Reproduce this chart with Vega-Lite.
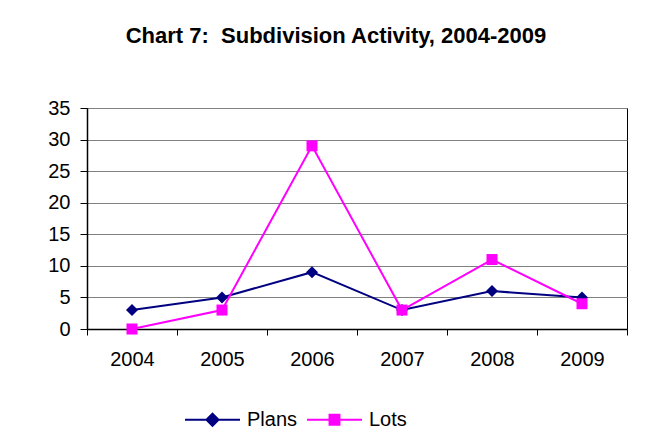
{
  "$schema": "https://vega.github.io/schema/vega-lite/v6.json",
  "width": 540,
  "height": 221,
  "autosize": "none",
  "padding": {"left": 87, "top": 108, "right": 30, "bottom": 118},
  "background": "white",
  "config": {
    "font": "Liberation Sans",
    "view": {"stroke": "#000000", "strokeWidth": 1}
  },
  "title": {
    "text": "Chart 7:\u00a0 Subdivision Activity, 2004-2009",
    "font": "Liberation Sans",
    "fontSize": 22,
    "fontWeight": "bold",
    "color": "#000000",
    "anchor": "middle",
    "frame": "group",
    "offset": 50,
    "dx": -21
  },
  "data": {
    "values": [
      {"year": "2004", "series": "Plans", "value": 3},
      {"year": "2005", "series": "Plans", "value": 5},
      {"year": "2006", "series": "Plans", "value": 9},
      {"year": "2007", "series": "Plans", "value": 3},
      {"year": "2008", "series": "Plans", "value": 6},
      {"year": "2009", "series": "Plans", "value": 5},
      {"year": "2004", "series": "Lots", "value": 0},
      {"year": "2005", "series": "Lots", "value": 3},
      {"year": "2006", "series": "Lots", "value": 29},
      {"year": "2007", "series": "Lots", "value": 3},
      {"year": "2008", "series": "Lots", "value": 11},
      {"year": "2009", "series": "Lots", "value": 4}
    ]
  },
  "encoding": {
    "x": {
      "field": "year",
      "type": "ordinal",
      "scale": {"type": "band", "paddingInner": 0, "paddingOuter": 0},
      "axis": {
        "title": null,
        "labelAngle": 0,
        "labelFont": "Liberation Sans",
        "labelFontSize": 20,
        "labelColor": "#000000",
        "labelPadding": 14,
        "tickBand": "extent",
        "tickSize": 6,
        "tickColor": "#000000",
        "domainColor": "#000000",
        "domainWidth": 1.5,
        "grid": false
      }
    },
    "y": {
      "field": "value",
      "type": "quantitative",
      "scale": {"domain": [0, 35], "nice": false},
      "axis": {
        "title": null,
        "values": [0, 5, 10, 15, 20, 25, 30, 35],
        "labelFont": "Liberation Sans",
        "labelFontSize": 20,
        "labelColor": "#000000",
        "labelPadding": 10,
        "tickSize": 7,
        "tickColor": "#000000",
        "domainColor": "#000000",
        "domainWidth": 1.5,
        "grid": true,
        "gridColor": "#808080",
        "gridWidth": 1.2
      }
    },
    "color": {
      "field": "series",
      "type": "nominal",
      "scale": {"domain": ["Plans", "Lots"], "range": ["#000080", "#FF00FF"]},
      "legend": {
        "title": null,
        "orient": "none",
        "direction": "horizontal",
        "legendX": 97,
        "legendY": 283,
        "symbolSize": 3025,
        "symbolStrokeWidth": 2,
        "labelFont": "Liberation Sans",
        "labelFontSize": 20,
        "labelColor": "#000000",
        "labelOffset": 6,
        "columnPadding": 5,
        "encode": {
          "symbols": {
            "update": {
              "shape": {"signal": "datum.value === 'Plans' ? 'M-1,0H1M0,-0.22L0.22,0L0,0.22L-0.22,0Z' : 'M-1,0H1M-0.18,-0.18H0.18V0.18H-0.18Z'"},
              "fill": {"signal": "scale('color', datum.value)"},
              "stroke": {"signal": "scale('color', datum.value)"},
              "strokeWidth": {"value": 2},
              "opacity": {"value": 1},
              "fillOpacity": {"value": 1}
            }
          }
        }
      }
    }
  },
  "layer": [
    {"mark": {"type": "line", "strokeWidth": 2}},
    {
      "transform": [{"filter": "datum.series === 'Plans'"}],
      "mark": {"type": "point", "filled": true, "opacity": 1, "size": 144, "shape": "diamond"}
    },
    {
      "transform": [{"filter": "datum.series === 'Lots'"}],
      "mark": {"type": "point", "filled": true, "opacity": 1, "size": 121, "shape": "square"}
    }
  ]
}
